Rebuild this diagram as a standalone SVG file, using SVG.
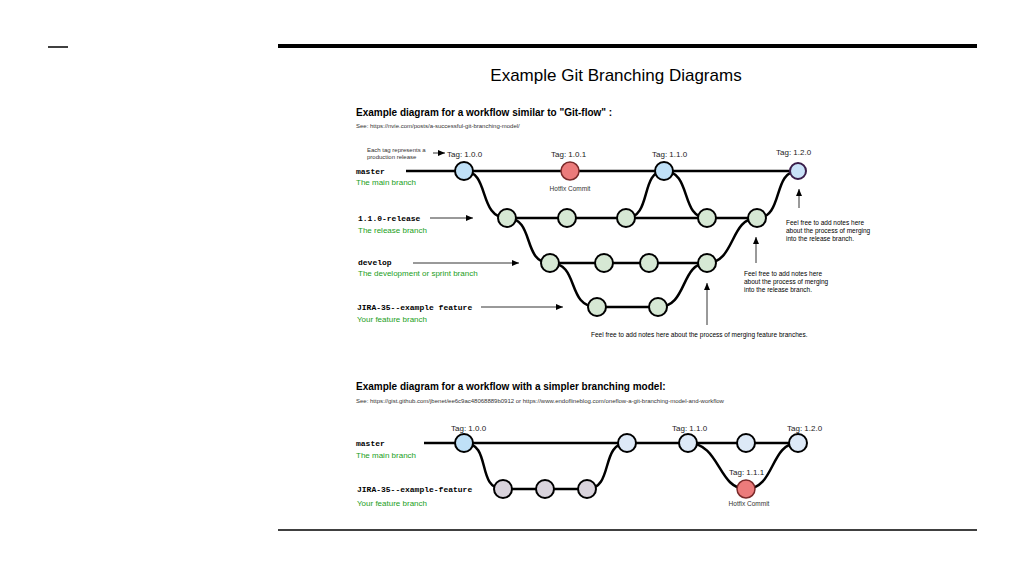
<svg xmlns="http://www.w3.org/2000/svg" width="1024" height="576" viewBox="0 0 1024 576">
<defs>
<marker id="ah" markerWidth="8" markerHeight="8" refX="7" refY="4" orient="auto" markerUnits="userSpaceOnUse"><path d="M0,1 L7,4 L0,7 z" fill="#000"/></marker>
</defs>
<style>
text{font-family:"Liberation Sans",Arial,sans-serif;fill:#000}
.h{font-size:10px;font-weight:bold}
.s{font-size:6px;fill:#333}
.m{font-family:"Liberation Mono",monospace;font-size:8px;font-weight:bold}
.g{font-size:8px;fill:#1a9e1a}
.t{font-size:8px;fill:#222}
.n{font-size:6.5px}
.ln{fill:none;stroke:#000;stroke-width:2.5}
.ar{stroke:#000;stroke-width:0.8;marker-end:url(#ah)}
.b{fill:#bfe0f7;stroke:#000;stroke-width:2}
.r{fill:#ec7b7b;stroke:#7a2a2a;stroke-width:1.5}
.gr{fill:#d6e8d4;stroke:#000;stroke-width:2}
.p{fill:#d9d3dc;stroke:#000;stroke-width:2}
.lb{fill:#dde9f7;stroke:#000;stroke-width:2}
</style>
<rect width="1024" height="576" fill="#fff"/>
<line x1="48" y1="47" x2="68" y2="47" stroke="#000" stroke-width="1.5"/>
<line x1="278" y1="46" x2="977" y2="46" stroke="#000" stroke-width="4"/>
<line x1="278" y1="530" x2="977" y2="530" stroke="#000" stroke-width="1.5"/>
<text x="616" y="81" text-anchor="middle" style="font-size:17px">Example Git Branching Diagrams</text>
<text x="356" y="116" class="h">Example diagram for a workflow similar to "Git-flow" :</text>
<text x="356" y="128" class="s">See:   https://nvie.com/posts/a-successful-git-branching-model/</text>
<text x="367" y="152" class="s">Each tag represents a</text>
<text x="367" y="159" class="s">production release</text>
<line x1="433" y1="153" x2="445" y2="153" class="ar"/>
<g id="labels1">
<text x="356" y="174" class="m">master</text><text x="356" y="185" class="g">The main branch</text>
<text x="358" y="221" class="m">1.1.0-release</text><text x="358" y="233" class="g">The release branch</text>
<text x="358" y="265" class="m">develop</text><text x="358" y="276" class="g">The development or sprint branch</text>
<text x="357" y="310" class="m">JIRA-35--example feature</text><text x="357" y="322" class="g">Your feature branch</text>
<text x="447" y="157" class="t">Tag: 1.0.0</text><text x="551" y="157" class="t">Tag: 1.0.1</text>
<text x="652" y="157" class="t">Tag: 1.1.0</text><text x="776" y="155" class="t">Tag: 1.2.0</text>
<text x="570" y="191" class="s" text-anchor="middle" style="font-size:6.5px">Hotfix Commit</text>
<text x="786" y="225" class="n">Feel free to add notes here</text>
<text x="786" y="233" class="n">about the process of merging</text>
<text x="786" y="241" class="n">into the release branch.</text>
<text x="744" y="276" class="n">Feel free to add notes here</text>
<text x="744" y="284" class="n">about the process of merging</text>
<text x="744" y="292" class="n">into the release branch.</text>
<text x="591" y="337" class="n">Feel free to add notes here about the process of merging feature branches.</text>
</g>
<g id="connectors">
<line x1="430" y1="218" x2="473" y2="218" class="ar"/>
<line x1="413" y1="263" x2="519" y2="263" class="ar"/>
<line x1="481" y1="307" x2="563" y2="307" class="ar"/>
<line x1="799" y1="208" x2="799" y2="189" class="ar"/>
<line x1="756" y1="263" x2="756" y2="237" class="ar"/>
<line x1="707" y1="325" x2="707" y2="283" class="ar"/>
<path class="ln" d="M406,171 H798"/>
<path class="ln" d="M507,218 H757"/>
<path class="ln" d="M550,263 H707"/>
<path class="ln" d="M597,307 H658"/>
<path class="ln" d="M464,171 C490,171 478,218 507,218"/>
<path class="ln" d="M626,218 C652,218 640,171 664,171"/>
<path class="ln" d="M664,171 C692,171 680,218 707,218"/>
<path class="ln" d="M757,218 C784,218 772,171 798,171"/>
<path class="ln" d="M507,218 C535,218 522,263 550,263"/>
<path class="ln" d="M707,263 C735,263 730,218 757,218"/>
<path class="ln" d="M550,263 C580,263 566,307 597,307"/>
<path class="ln" d="M658,307 C688,307 680,263 707,263"/>
<path class="ln" d="M424,443 H798"/>
<path class="ln" d="M503,489 H587"/>
<path class="ln" d="M464,443 C492,443 476,489 503,489"/>
<path class="ln" d="M587,489 C614,489 600,443 627,443"/>
<path class="ln" d="M688,443 C720,443 718,489 746,489"/>
<path class="ln" d="M746,489 C775,489 770,443 798,443"/>
</g>
<g id="nodes1">
<circle cx="464" cy="171" r="9" class="b"/><circle cx="570" cy="171" r="9" class="r"/>
<circle cx="664" cy="171" r="9" class="b"/><circle cx="798" cy="171" r="8" fill="#c9e2f8" stroke="#3a1d4a" stroke-width="2"/>
<circle cx="507" cy="218" r="9" class="gr"/><circle cx="567" cy="218" r="9" class="gr"/><circle cx="626" cy="218" r="9" class="gr"/>
<circle cx="707" cy="218" r="9" class="gr"/><circle cx="757" cy="218" r="9" class="gr"/>
<circle cx="550" cy="263" r="9" class="gr"/><circle cx="604" cy="263" r="9" class="gr"/><circle cx="649" cy="263" r="9" class="gr"/><circle cx="707" cy="263" r="9" class="gr"/>
<circle cx="597" cy="307" r="9" class="gr"/><circle cx="658" cy="307" r="9" class="gr"/>
</g>
<text x="356" y="390" class="h">Example diagram for a workflow with a simpler branching model:</text>
<text x="356" y="403" class="s">See:   https://gist.github.com/jbenet/ee6c9ac48068889b0912      or     https://www.endoflineblog.com/oneflow-a-git-branching-model-and-workflow</text>
<g id="labels2">
<text x="356" y="446" class="m">master</text><text x="356" y="458" class="g">The main branch</text>
<text x="357" y="492" class="m">JIRA-35--example-feature</text><text x="357" y="506" class="g">Your feature branch</text>
<text x="451" y="431" class="t">Tag: 1.0.0</text><text x="672" y="431" class="t">Tag: 1.1.0</text>
<text x="787" y="431" class="t">Tag: 1.2.0</text><text x="729" y="475" class="t">Tag: 1.1.1</text>
<text x="749" y="506" class="s" text-anchor="middle" style="font-size:6.5px">Hotfix Commit</text>
</g>
<g id="nodes2">
<circle cx="464" cy="443" r="9" class="b"/><circle cx="627" cy="443" r="9" class="lb"/><circle cx="688" cy="443" r="9" class="lb"/>
<circle cx="746" cy="443" r="9" class="lb"/><circle cx="798" cy="443" r="9" class="lb"/>
<circle cx="503" cy="489" r="9" class="p"/><circle cx="545" cy="489" r="9" class="p"/><circle cx="587" cy="489" r="9" class="p"/>
<circle cx="746" cy="489" r="9" class="r"/>
</g>
</svg>
